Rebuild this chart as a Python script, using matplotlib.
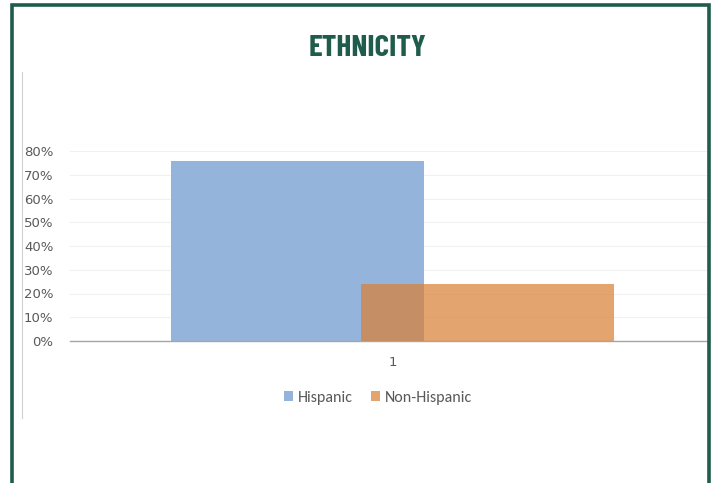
import matplotlib.pyplot as plt
from matplotlib.patches import Rectangle
from matplotlib.lines import Line2D
import numpy as np

# Ethnicity breakdown (share of total)
categories = ["1"]
series_names = ["Hispanic", "Non-Hispanic"]
hispanic = [0.76]
non_hispanic = [0.24]

blue = "#95b4dc"
orange = "#d97f35"   # drawn semi-transparent so the overlap darkens
green = "#1f5c4b"

plt.rcParams["font.family"] = ["Carlito", "DejaVu Sans"]

fig = plt.figure(figsize=(7.16, 4.83), dpi=100)
fig.patch.set_facecolor("white")

# dark green frame, open at the bottom
frame = Rectangle((12 / 716, -0.05), (709 - 12) / 716, 1 - 5 / 483 + 0.05,
                  transform=fig.transFigure, fill=False, edgecolor=green,
                  linewidth=2.6, zorder=10)
fig.add_artist(frame)
# thin grey chart-area edge on the left
fig.add_artist(Line2D([22 / 716, 22 / 716], [1 - 418 / 483, 1 - 72 / 483],
                      transform=fig.transFigure, color="#d0d0d0", linewidth=0.8))

fig.text(367 / 716, 1 - 48.5 / 483, "ETHNICITY", ha="center", va="center",
         fontsize=22.5, fontweight="bold", color=green,
         family=["Barlow Condensed", "DejaVu Sans"])

ax = fig.add_axes([70 / 716, 1 - 341 / 483, (709 - 70) / 716, 190 / 483])
x = np.arange(len(categories))
width = 1.0
offset = 0.375
ax.bar(x - offset, hispanic, width, color=blue, label=series_names[0], zorder=2)
ax.bar(x + offset, non_hispanic, width, color=orange, alpha=0.71,
       label=series_names[1], zorder=3)

ax.set_xlim(-1.275, 1.251)
ax.set_ylim(0, 0.8)
ax.set_yticks(np.arange(0, 0.81, 0.1))
ax.set_yticklabels([f"{int(round(v * 100))}%" for v in np.arange(0, 0.81, 0.1)],
                   family="DejaVu Sans")
ax.set_xticks(x)
ax.set_xticklabels(categories, family="DejaVu Sans")

ax.grid(axis="y", color="#f0f0f0", linewidth=0.8, zorder=0)
ax.set_axisbelow(True)
for side in ["top", "right", "left"]:
    ax.spines[side].set_visible(False)
ax.spines["bottom"].set_color("#a6a6a6")
ax.spines["bottom"].set_linewidth(1.0)
ax.tick_params(axis="both", length=0, labelsize=9.5, colors="#595959")
ax.tick_params(axis="y", pad=12)
ax.tick_params(axis="x", pad=11)

ax.legend(loc="center", bbox_to_anchor=(378 / 716, 1 - 398 / 483),
          bbox_transform=fig.transFigure, ncol=2, frameon=False,
          fontsize=11.5, handlelength=0.6, handleheight=0.6,
          handletextpad=0.3, columnspacing=1.1, labelcolor="#595959")

fig.savefig("out.png", dpi=100)
